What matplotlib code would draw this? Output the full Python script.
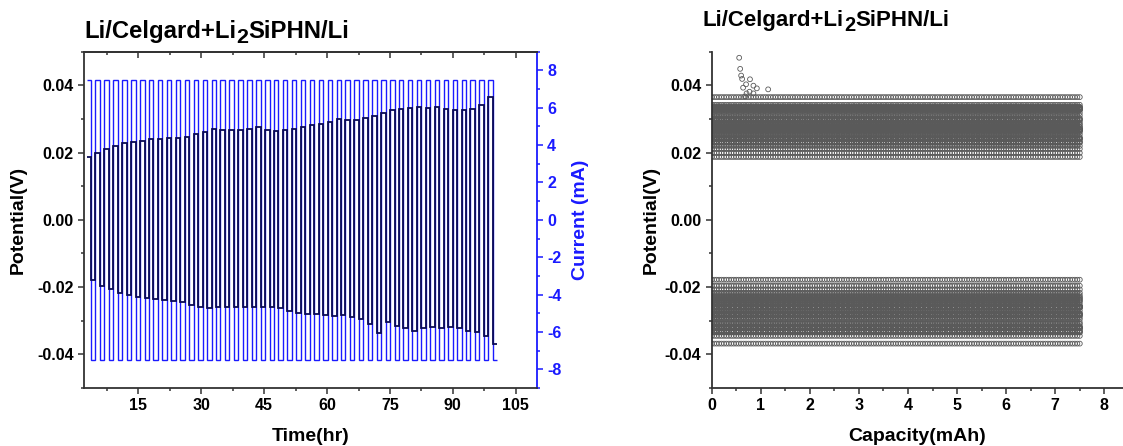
import numpy as np
import matplotlib.pyplot as plt
from matplotlib.ticker import MultipleLocator, FormatStrFormatter

plt.rcParams['font.family'] = ['Liberation Sans', 'DejaVu Sans']
plt.rcParams['font.weight'] = 'bold'
plt.rcParams['axes.unicode_minus'] = False

# galvanostatic cycling protocol
t_start = 2.6        # hr
half_period = 1.065  # hr per half cycle
current_ma = 7.5     # mA
capacity_max = 7.5   # mAh per half cycle
capacity_step = 0.05

# plateau potential of each half cycle (V)
charge_pot = [0.0187, 0.0199, 0.0211, 0.0220, 0.0229, 0.0231, 0.0233, 0.0239,
              0.0241, 0.0242, 0.0243, 0.0246, 0.0254, 0.0261, 0.0269, 0.0268,
              0.0268, 0.0267, 0.0271, 0.0275, 0.0268, 0.0264, 0.0266, 0.0270,
              0.0276, 0.0281, 0.0285, 0.0290, 0.0300, 0.0296, 0.0298, 0.0302,
              0.0310, 0.0318, 0.0328, 0.0330, 0.0334, 0.0336, 0.0333, 0.0335,
              0.0330, 0.0327, 0.0326, 0.0330, 0.0342, 0.0365]
discharge_pot = [-0.0178, -0.0196, -0.0207, -0.0217, -0.0224, -0.0229, -0.0232,
                 -0.0235, -0.0238, -0.0241, -0.0245, -0.0252, -0.0258, -0.0261,
                 -0.0259, -0.0258, -0.0260, -0.0259, -0.0258, -0.0259, -0.0258,
                 -0.0262, -0.0270, -0.0278, -0.0280, -0.0279, -0.0282, -0.0285,
                 -0.0283, -0.0290, -0.0296, -0.0310, -0.0335, -0.0305, -0.0316,
                 -0.0322, -0.0330, -0.0322, -0.0320, -0.0322, -0.0320, -0.0322,
                 -0.0330, -0.0334, -0.0345, -0.0368]

# early overshoot points on the capacity plot
spike_cap = [0.56, 0.58, 0.60, 0.62, 0.78, 0.70, 0.64, 0.85, 0.92, 0.77, 0.71, 0.85, 1.15, 0.68]
spike_pot = [0.0482, 0.0449, 0.0429, 0.0419, 0.0418, 0.0403, 0.0393, 0.0399,
             0.0391, 0.0381, 0.0376, 0.0376, 0.0388, 0.0367]

title_parts = ['Li/Celgard+Li', '2', 'SiPHN/Li']

n = len(charge_pot)
edges = t_start + half_period * np.arange(2 * n + 1)
pot = np.empty(2 * n)
pot[0::2] = charge_pot
pot[1::2] = discharge_pot
cur = np.empty(2 * n)
cur[0::2] = current_ma
cur[1::2] = -current_ma

W, H = 1123, 446
fig = plt.figure(figsize=(W / 100, H / 100), dpi=100)
ax1 = fig.add_axes([84 / W, 58 / H, 452.7 / W, 336.3 / H])
ax2 = ax1.twinx()
ax3 = fig.add_axes([711.7 / W, 58 / H, (W - 711.7) / W, 336.3 / H])

gray = '#333333'
blue = '#1a1aff'
tick_fs = 11.5
label_fs = 14

# current on the twin axis, potential drawn above it
ax2.stairs(cur, edges, baseline=None, color=blue, lw=1.0)
ax1.stairs(pot, edges, baseline=None, color='#0a0a55', lw=1.3)
ax1.set_zorder(ax2.get_zorder() + 1)
ax1.patch.set_visible(False)

ax1.set_xlim(2, 110)
ax1.set_ylim(-0.05, 0.05)
ax2.set_ylim(-9, 9)

ax1.xaxis.set_major_locator(MultipleLocator(15))
ax1.xaxis.set_minor_locator(MultipleLocator(7.5))
ax1.yaxis.set_major_locator(MultipleLocator(0.02))
ax1.yaxis.set_minor_locator(MultipleLocator(0.01))
ax1.yaxis.set_major_formatter(FormatStrFormatter('%.2f'))
ax1.tick_params(which='both', direction='out', colors=gray, labelcolor='black',
                labelsize=tick_fs, width=1.1, right=False)
ax1.tick_params(which='major', length=4)
ax1.tick_params(which='minor', length=2.5)

top = ax1.secondary_xaxis('top')
top.xaxis.set_major_locator(MultipleLocator(15))
top.xaxis.set_minor_locator(MultipleLocator(7.5))
top.tick_params(which='both', direction='in', labeltop=False, colors=gray, width=1.1)
top.tick_params(which='major', length=4)
top.tick_params(which='minor', length=2.5)
top.spines['top'].set_color(gray)
top.spines['top'].set_linewidth(1.3)

for s in ['left', 'bottom', 'top']:
    ax1.spines[s].set_color(gray)
    ax1.spines[s].set_linewidth(1.3)
ax1.spines['right'].set_visible(False)
for s in ['left', 'bottom', 'top']:
    ax2.spines[s].set_visible(False)
ax2.spines['right'].set_color(blue)
ax2.spines['right'].set_linewidth(1.3)

ax2.yaxis.set_major_locator(MultipleLocator(2))
ax2.yaxis.set_minor_locator(MultipleLocator(1))
ax2.tick_params(which='both', direction='out', colors=blue, labelsize=tick_fs, width=1.1)
ax2.tick_params(which='major', length=4)
ax2.tick_params(which='minor', length=2.5)

ax1.set_xlabel('Time(hr)', fontsize=label_fs, fontweight='bold')
ax1.set_ylabel('Potential(V)', fontsize=label_fs, fontweight='bold')
ax2.set_ylabel('Current (mA)', fontsize=label_fs, fontweight='bold', color=blue)
ax1.xaxis.set_label_coords(0.5, -0.118)
ax1.yaxis.set_label_coords(-0.126, 0.5)
ax2.yaxis.set_label_coords(1.078, 0.5)

# potential vs capacity, all half cycles overlaid
capacity = np.arange(0, capacity_max + 1e-9, capacity_step)
cap_all = np.tile(capacity, 2 * n)
pot_all = np.repeat(pot, len(capacity))
ax3.scatter(cap_all, pot_all, s=12, facecolors='none', edgecolors='#5a5a5a', linewidths=0.6)
ax3.scatter(spike_cap, spike_pot, s=12, facecolors='none', edgecolors='#5a5a5a', linewidths=0.6)

ax3.set_xlim(0, 8.38)
ax3.set_ylim(-0.05, 0.05)
ax3.xaxis.set_major_locator(MultipleLocator(1))
ax3.xaxis.set_minor_locator(MultipleLocator(0.5))
ax3.yaxis.set_major_locator(MultipleLocator(0.02))
ax3.yaxis.set_minor_locator(MultipleLocator(0.01))
ax3.yaxis.set_major_formatter(FormatStrFormatter('%.2f'))
ax3.tick_params(which='both', direction='out', colors=gray, labelcolor='black',
                labelsize=tick_fs, width=1.1)
ax3.tick_params(which='major', length=4)
ax3.tick_params(which='minor', length=2.5)
ax3.spines['top'].set_visible(False)
ax3.spines['right'].set_visible(False)
for s in ['left', 'bottom']:
    ax3.spines[s].set_color(gray)
    ax3.spines[s].set_linewidth(1.3)
ax3.set_xlabel('Capacity(mAh)', fontsize=label_fs, fontweight='bold')
ax3.set_ylabel('Potential(V)', fontsize=label_fs, fontweight='bold')
ax3.xaxis.set_label_coords(0.5, -0.118)
ax3.yaxis.set_label_coords(-0.126, 0.5)


def put_title(x_px, base_px, size):
    # title with a large, lowered "2"
    r = fig.canvas.get_renderer()
    t = fig.text(x_px / W, 1 - base_px / H, title_parts[0], fontsize=size,
                 fontweight='bold', va='baseline')
    x1 = t.get_window_extent(r).x1
    t = fig.text(x1 / W, 1 - (base_px + 5) / H, title_parts[1], fontsize=size * 0.9,
                 fontweight='bold', va='baseline')
    x1 = t.get_window_extent(r).x1
    fig.text(x1 / W, 1 - base_px / H, title_parts[2], fontsize=size,
             fontweight='bold', va='baseline')


put_title(84, 38, 17.2)
put_title(703, 26, 16)

fig.savefig('out.png', dpi=100)
